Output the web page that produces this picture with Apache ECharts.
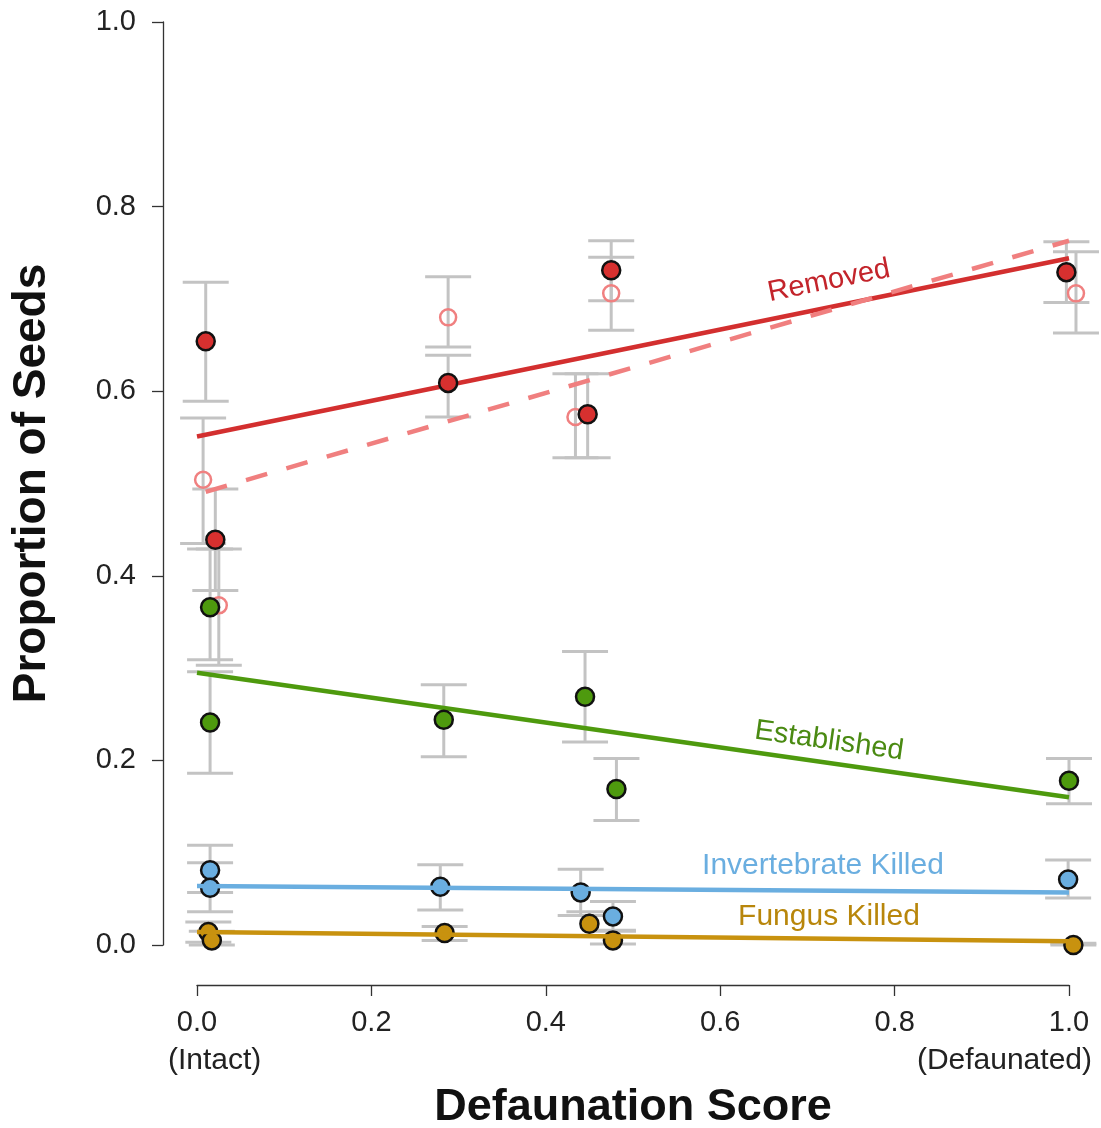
<!DOCTYPE html>
<html>
<head>
<meta charset="utf-8">
<script src="https://cdn.jsdelivr.net/npm/echarts@6/dist/echarts.min.js"></script>
<style>
  html, body { margin: 0; padding: 0; background: #fff; }
  #main { width: 1101px; height: 1128px; }
</style>
</head>
<body>
<div id="main"></div>
<script>
// axis ticks
var xTicks = [0, 0.2, 0.4, 0.6, 0.8, 1.0];
var yTicks = [0, 0.2, 0.4, 0.6, 0.8, 1.0];

// Removed (filled) -- x, mean, low, high
var removedX  = [0.010, 0.021, 0.288, 0.448, 0.475, 0.997];
var removedY  = [0.654, 0.439, 0.609, 0.575, 0.731, 0.729];
var removedLo = [0.589, 0.384, 0.572, 0.528, 0.698, 0.696];
var removedHi = [0.718, 0.494, 0.639, 0.619, 0.763, 0.762];

// Removed (open circles, dashed fit)
var openX  = [0.007, 0.025, 0.288, 0.434, 0.475, 1.008];
var openY  = [0.504, 0.368, 0.680, 0.572, 0.706, 0.706];
var openLo = [0.435, 0.303, 0.648, 0.528, 0.666, 0.663];
var openHi = [0.571, 0.429, 0.724, 0.619, 0.745, 0.751];

// Established
var estX  = [0.015, 0.015, 0.283, 0.445, 0.481, 1.000];
var estY  = [0.366, 0.241, 0.244, 0.269, 0.169, 0.178];
var estLo = [0.309, 0.186, 0.204, 0.220, 0.135, 0.153];
var estHi = [0.429, 0.296, 0.282, 0.318, 0.202, 0.202];

// Invertebrate killed
var invX  = [0.015, 0.015, 0.279, 0.440, 0.477, 0.999];
var invY  = [0.081, 0.062, 0.063, 0.057, 0.031, 0.071];
var invLo = [0.057, 0.036, 0.038, 0.032, 0.015, 0.051];
var invHi = [0.108, 0.089, 0.087, 0.082, 0.047, 0.092];

// Fungus killed
var funX  = [0.013, 0.017, 0.284, 0.450, 0.477, 1.005];
var funY  = [0.014, 0.005, 0.013, 0.023, 0.005, 0.000];
var funLo = [0.003, 0.000, 0.005, 0.010, 0.001, 0.000];
var funHi = [0.025, 0.015, 0.020, 0.036, 0.016, 0.002];

// fitted lines (start, end)
var removedFit = [[0, 0.551], [1, 0.744]];
var openFit    = [[0.01, 0.491], [1, 0.763]];
var estFit     = [[0, 0.295], [1, 0.160]];
var invFit     = [[0, 0.064], [1, 0.057]];
var funFit     = [[0, 0.014], [1, 0.004]];

var FONT = 'Liberation Sans';

var pts = function(xs, ys) {
  return xs.map(function(x, i) { return [x, ys[i]]; });
};
var errs = function(xs, lo, hi) {
  return xs.map(function(x, i) { return [x, lo[i], hi[i]]; });
};

var errRender = function(params, api) {
  var x = api.value(0);
  var top = api.coord([x, api.value(2)]);
  var bot = api.coord([x, api.value(1)]);
  var w = 23;
  var st = { stroke: '#c3c3c3', lineWidth: 3 };
  return {
    type: 'group',
    children: [
      { type: 'line', shape: { x1: top[0], y1: top[1], x2: bot[0], y2: bot[1] }, style: st },
      { type: 'line', shape: { x1: top[0] - w, y1: top[1], x2: top[0] + w, y2: top[1] }, style: st },
      { type: 'line', shape: { x1: bot[0] - w, y1: bot[1], x2: bot[0] + w, y2: bot[1] }, style: st }
    ]
  };
};

var errSeries = function(data) {
  return { type: 'custom', renderItem: errRender, data: data, z: 1, silent: true };
};
var dotSeries = function(data, fill) {
  return {
    type: 'scatter', data: data, symbolSize: 18, clip: false, z: 3,
    itemStyle: { color: fill, borderColor: '#111', borderWidth: 2.5, opacity: 1 }
  };
};
var fitSeries = function(data, color, dashed, z) {
  return {
    type: 'line', data: data, showSymbol: false, clip: false, z: z,
    lineStyle: { color: color, width: 4.5, type: dashed ? [22, 20] : 'solid' }
  };
};

var myChart = echarts.init(document.getElementById('main'));

var option = {
  animation: false,
  backgroundColor: '#fff',
  textStyle: { fontFamily: FONT },
  grid: { left: 197, right: 32, top: 22, bottom: 183, outerBoundsMode: 'none', containLabel: false },
  xAxis: {
    type: 'value', min: 0, max: 1, interval: 0.2, offset: 40,
    axisLine: { show: true, onZero: false, lineStyle: { color: '#333', width: 1.3 } },
    axisTick: { show: true, length: 11, lineStyle: { color: '#333', width: 1.3 } },
    axisLabel: { fontSize: 29, color: '#222', margin: 23, fontFamily: FONT,
      formatter: function(v) { return v.toFixed(1); } },
    splitLine: { show: false },
    name: 'Defaunation Score', nameLocation: 'middle', nameGap: 100,
    nameTextStyle: { fontSize: 45, fontWeight: 'bold', color: '#111', fontFamily: FONT }
  },
  yAxis: {
    type: 'value', min: 0, max: 1, interval: 0.2, offset: 34,
    axisLine: { show: true, onZero: false, lineStyle: { color: '#333', width: 1.3 } },
    axisTick: { show: true, length: 11, lineStyle: { color: '#333', width: 1.3 } },
    axisLabel: { fontSize: 29, color: '#222', margin: 27, fontFamily: FONT,
      formatter: function(v) { return v.toFixed(1); } },
    splitLine: { show: false },
    name: 'Proportion of Seeds', nameLocation: 'middle', nameGap: 108,
    nameTextStyle: { fontSize: 46, fontWeight: 'bold', color: '#111', fontFamily: FONT }
  },
  graphic: [
    { type: 'text', x: 168, y: 1061, style: { text: '(Intact)', font: '30px ' + FONT, fill: '#222', textAlign: 'left', textVerticalAlign: 'middle' } },
    { type: 'text', x: 1092, y: 1061, style: { text: '(Defaunated)', font: '30px ' + FONT, fill: '#222', textAlign: 'right', textVerticalAlign: 'middle' } },
    { type: 'text', x: 829, y: 281, rotation: 0.2, style: { text: 'Removed', font: '29px ' + FONT, fill: '#c3242b', textAlign: 'center', textVerticalAlign: 'middle' } },
    { type: 'text', x: 829, y: 741, rotation: -0.14, style: { text: 'Established', font: '29px ' + FONT, fill: '#4a8a12', textAlign: 'center', textVerticalAlign: 'middle' } },
    { type: 'text', x: 823, y: 866, style: { text: 'Invertebrate Killed', font: '30px ' + FONT, fill: '#6aaee0', textAlign: 'center', textVerticalAlign: 'middle' } },
    { type: 'text', x: 829, y: 917, style: { text: 'Fungus Killed', font: '30px ' + FONT, fill: '#b8860b', textAlign: 'center', textVerticalAlign: 'middle' } }
  ],
  series: [
    errSeries(errs(removedX, removedLo, removedHi)),
    errSeries(errs(openX, openLo, openHi)),
    errSeries(errs(estX, estLo, estHi)),
    errSeries(errs(invX, invLo, invHi)),
    errSeries(errs(funX, funLo, funHi)),

    fitSeries(removedFit, '#d32f2f', false, 2),
    fitSeries(openFit, '#f07f7f', true, 2),
    fitSeries(estFit, '#4e9a0e', false, 2),

    {
      type: 'scatter', data: pts(openX, openY), symbolSize: 16, clip: false, z: 3,
      itemStyle: { color: 'rgba(255,255,255,0)', borderColor: '#f08080', borderWidth: 2.5, opacity: 1 }
    },
    dotSeries(pts(removedX, removedY), '#d7302f'),
    dotSeries(pts(estX, estY), '#4e9a0e'),
    dotSeries(pts(invX, invY), '#6aaee0'),
    dotSeries(pts(funX, funY), '#c8920f'),

    fitSeries(invFit, '#6aaee0', false, 4),
    fitSeries(funFit, '#c8920f', false, 4)
  ]
};

myChart.setOption(option);
</script>
</body>
</html>
